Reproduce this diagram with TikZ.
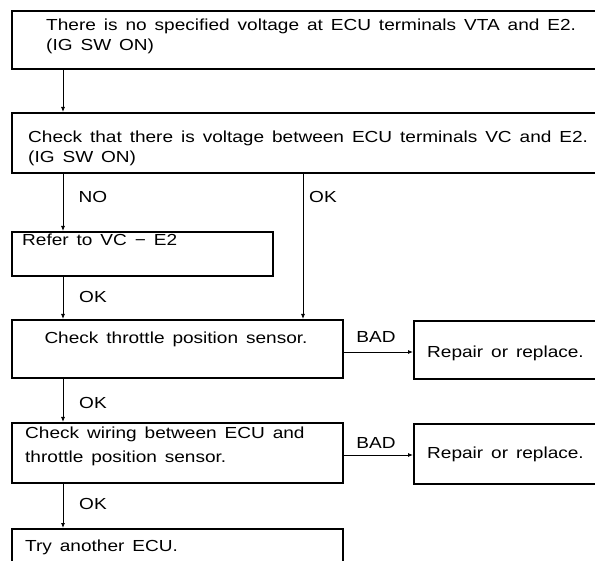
\documentclass[tikz,border=0pt]{standalone}
\usepackage{fontspec}
\setmainfont{Liberation Sans}[FakeStretch=1.19, WordSpace=1.5]
\usetikzlibrary{arrows.meta}
\begin{document}
\begin{tikzpicture}[x=1pt,y=-1pt,
  box/.style={draw, line width=1.8pt, inner sep=0pt, anchor=north west},
  txt/.style={font=\fontsize{16}{20}\selectfont, inner sep=0pt, anchor=base west, align=left},
  lbl/.style={font=\fontsize{16}{20}\selectfont, inner sep=0pt, anchor=base},
  conn/.style={line width=0.8pt, -{Latex[length=5pt,width=4pt]}}]
\useasboundingbox (0,0) rectangle (595,561);
\clip (0,0) rectangle (595,561);
% boxes
\node[box, minimum width=620pt, minimum height=58pt] (b1) at (11,10) {};
\node[box, minimum width=620pt, minimum height=60pt] (b2) at (11,112) {};
\node[box, minimum width=261pt, minimum height=44pt] (b3) at (11,231) {};
\node[box, minimum width=331pt, minimum height=58pt] (b4) at (11,319) {};
\node[box, minimum width=220pt, minimum height=58pt] (b5) at (413,320) {};
\node[box, minimum width=331pt, minimum height=60pt] (b6) at (11,422) {};
\node[box, minimum width=220pt, minimum height=60pt] (b7) at (413,423) {};
\node[box, minimum width=331pt, minimum height=60pt] (b8) at (11,528) {};
% texts (multi-line nodes: base = baseline of last line)
\node[txt] (t1) at (46,51) {There is no specified voltage at ECU terminals VTA and E2.\\(IG SW ON)};
\node[txt] (t2) at (28,163) {Check that there is voltage between ECU terminals VC and E2.\\(IG SW ON)};
\node[txt] (t3) at (22,246) {Refer to VC − E2};
\node[txt, anchor=base] (t4) at (176,344) {Check throttle position sensor.};
\node[txt] (t5) at (427,358) {Repair or replace.};
\node[txt] (t6) at (25,463) {Check wiring between ECU and\\[4pt]throttle position sensor.};
\node[txt] (t7) at (427,459) {Repair or replace.};
\node[txt] (t8) at (25,551) {Try another ECU.};
% labels
\node[lbl] (l1) at (93,203) {NO};
\node[lbl] (l2) at (323,203) {OK};
\node[lbl] (l3) at (93,303) {OK};
\node[lbl] (l4) at (376,343) {BAD};
\node[lbl] (l5) at (93,409) {OK};
\node[lbl] (l6) at (376,449) {BAD};
\node[lbl] (l7) at (93,509) {OK};
% connectors
\coordinate (xa) at (63,0);
\coordinate (xb) at (303,0);
\coordinate (ya) at (0,352);
\coordinate (yb) at (0,455);
\draw[conn] (b1.south -| xa) -- (b2.north -| xa);
\draw[conn] (b2.south -| xa) -- (b3.north -| xa);
\draw[conn] (b2.south -| xb) -- (b4.north -| xb);
\draw[conn] (b3.south -| xa) -- (b4.north -| xa);
\draw[conn] (b4.east |- ya) -- (b5.west |- ya);
\draw[conn] (b4.south -| xa) -- (b6.north -| xa);
\draw[conn] (b6.east |- yb) -- (b7.west |- yb);
\draw[conn] (b6.south -| xa) -- (b8.north -| xa);
\end{tikzpicture}
\end{document}
